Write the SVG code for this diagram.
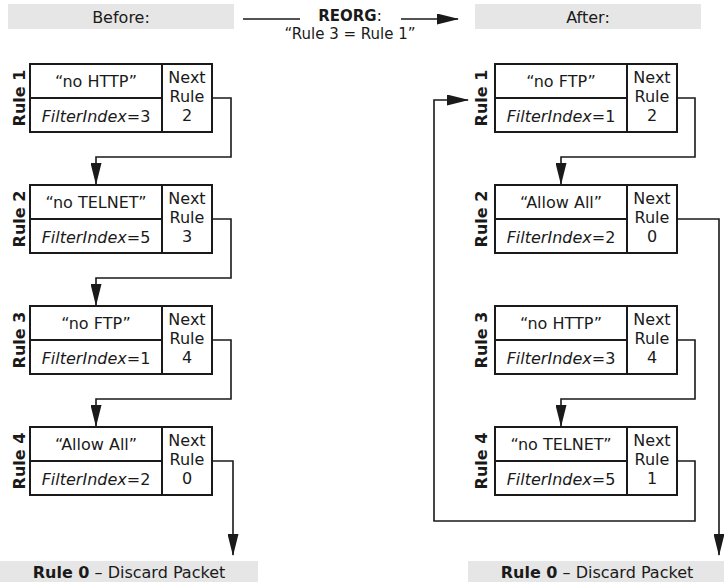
<svg xmlns="http://www.w3.org/2000/svg" width="724" height="582" viewBox="0 0 724 582">
<style>
text{font-family:"DejaVu Sans","Liberation Sans",sans-serif;font-size:16px;fill:#1a1a1a}
.h{font-size:15px}
.b{font-weight:bold}
.i{font-style:italic}
.m{text-anchor:middle}
.box{fill:#fff;stroke:#1a1a1a;stroke-width:2}
.ln{fill:none;stroke:#1a1a1a;stroke-width:2}
.bar{fill:#e6e6e6}
.con{fill:none;stroke:#1a1a1a;stroke-width:1.6;marker-end:url(#ah)}
</style>
<defs>
<marker id="ah" markerUnits="userSpaceOnUse" markerWidth="22" markerHeight="11" refX="21" refY="5.5" orient="auto">
<path d="M0,0 L22,5.5 L0,11 z" fill="#1a1a1a"/>
</marker>
</defs>

<g id="header">
<rect class="bar" x="8" y="4" width="226" height="25"/>
<text class="m" x="121" y="23">Before:</text>
<rect class="bar" x="475" y="4" width="226" height="25"/>
<text class="m" x="588" y="23">After:</text>
<line x1="243" y1="19" x2="300" y2="19" stroke="#1a1a1a" stroke-width="1.6"/>
<text class="m h" x="350" y="21"><tspan class="b">REORG</tspan>:</text>
<text class="m h" x="350" y="39">“Rule 3 = Rule 1”</text>
</g>

<g id="footer">
<rect class="bar" x="0" y="561" width="258" height="21"/>
<text class="m" x="129" y="578"><tspan class="b">Rule 0</tspan> – Discard Packet</text>
<rect class="bar" x="468" y="561" width="256" height="21"/>
<text class="m" x="597" y="578"><tspan class="b">Rule 0</tspan> – Discard Packet</text>
</g>

<g id="before-rule1" transform="translate(30,64)">
<rect class="box" x="0" y="0" width="182" height="68"/>
<path class="ln" d="M132,0 V68 M0,34 H132"/>
<text class="m" x="66" y="23">“no HTTP”</text>
<text class="m i" x="66" y="58">FilterIndex<tspan font-style="normal">=3</tspan></text>
<text class="m" x="157" y="19">Next</text>
<text class="m" x="157" y="38">Rule</text>
<text class="m" x="157" y="57">2</text>
<text class="m b" transform="translate(-5,34) rotate(-90)">Rule 1</text>
</g>
<g id="before-rule2" transform="translate(30,185)">
<rect class="box" x="0" y="0" width="182" height="68"/>
<path class="ln" d="M132,0 V68 M0,34 H132"/>
<text class="m" x="66" y="23">“no TELNET”</text>
<text class="m i" x="66" y="58">FilterIndex<tspan font-style="normal">=5</tspan></text>
<text class="m" x="157" y="19">Next</text>
<text class="m" x="157" y="38">Rule</text>
<text class="m" x="157" y="57">3</text>
<text class="m b" transform="translate(-5,34) rotate(-90)">Rule 2</text>
</g>
<g id="before-rule3" transform="translate(30,306)">
<rect class="box" x="0" y="0" width="182" height="68"/>
<path class="ln" d="M132,0 V68 M0,34 H132"/>
<text class="m" x="66" y="23">“no FTP”</text>
<text class="m i" x="66" y="58">FilterIndex<tspan font-style="normal">=1</tspan></text>
<text class="m" x="157" y="19">Next</text>
<text class="m" x="157" y="38">Rule</text>
<text class="m" x="157" y="57">4</text>
<text class="m b" transform="translate(-5,34) rotate(-90)">Rule 3</text>
</g>
<g id="before-rule4" transform="translate(30,427)">
<rect class="box" x="0" y="0" width="182" height="68"/>
<path class="ln" d="M132,0 V68 M0,34 H132"/>
<text class="m" x="66" y="23">“Allow All”</text>
<text class="m i" x="66" y="58">FilterIndex<tspan font-style="normal">=2</tspan></text>
<text class="m" x="157" y="19">Next</text>
<text class="m" x="157" y="38">Rule</text>
<text class="m" x="157" y="57">0</text>
<text class="m b" transform="translate(-5,34) rotate(-90)">Rule 4</text>
</g>

<g id="after-rule1" transform="translate(495,64)">
<rect class="box" x="0" y="0" width="182" height="68"/>
<path class="ln" d="M132,0 V68 M0,34 H132"/>
<text class="m" x="66" y="23">“no FTP”</text>
<text class="m i" x="66" y="58">FilterIndex<tspan font-style="normal">=1</tspan></text>
<text class="m" x="157" y="19">Next</text>
<text class="m" x="157" y="38">Rule</text>
<text class="m" x="157" y="57">2</text>
<text class="m b" transform="translate(-8,34) rotate(-90)">Rule 1</text>
</g>
<g id="after-rule2" transform="translate(495,185)">
<rect class="box" x="0" y="0" width="182" height="68"/>
<path class="ln" d="M132,0 V68 M0,34 H132"/>
<text class="m" x="66" y="23">“Allow All”</text>
<text class="m i" x="66" y="58">FilterIndex<tspan font-style="normal">=2</tspan></text>
<text class="m" x="157" y="19">Next</text>
<text class="m" x="157" y="38">Rule</text>
<text class="m" x="157" y="57">0</text>
<text class="m b" transform="translate(-8,34) rotate(-90)">Rule 2</text>
</g>
<g id="after-rule3" transform="translate(495,306)">
<rect class="box" x="0" y="0" width="182" height="68"/>
<path class="ln" d="M132,0 V68 M0,34 H132"/>
<text class="m" x="66" y="23">“no HTTP”</text>
<text class="m i" x="66" y="58">FilterIndex<tspan font-style="normal">=3</tspan></text>
<text class="m" x="157" y="19">Next</text>
<text class="m" x="157" y="38">Rule</text>
<text class="m" x="157" y="57">4</text>
<text class="m b" transform="translate(-8,34) rotate(-90)">Rule 3</text>
</g>
<g id="after-rule4" transform="translate(495,427)">
<rect class="box" x="0" y="0" width="182" height="68"/>
<path class="ln" d="M132,0 V68 M0,34 H132"/>
<text class="m" x="66" y="23">“no TELNET”</text>
<text class="m i" x="66" y="58">FilterIndex<tspan font-style="normal">=5</tspan></text>
<text class="m" x="157" y="19">Next</text>
<text class="m" x="157" y="38">Rule</text>
<text class="m" x="157" y="57">1</text>
<text class="m b" transform="translate(-8,34) rotate(-90)">Rule 4</text>
</g>

<g id="connectors">
<path class="con" d="M401,19 H458"/>
<path class="con" d="M212,98 H231 V157 H96 V184"/>
<path class="con" d="M212,219 H231 V278 H96 V305"/>
<path class="con" d="M212,340 H231 V399 H96 V426"/>
<path class="con" d="M212,461 H233 V555"/>
<path class="con" d="M677,98 H695 V157 H561 V184"/>
<path class="con" d="M677,219 H719 V555"/>
<path class="con" d="M677,340 H695 V399 H561 V426"/>
<path class="con" d="M677,461 H695 V521 H434 V100 H468"/>
</g>
</svg>
